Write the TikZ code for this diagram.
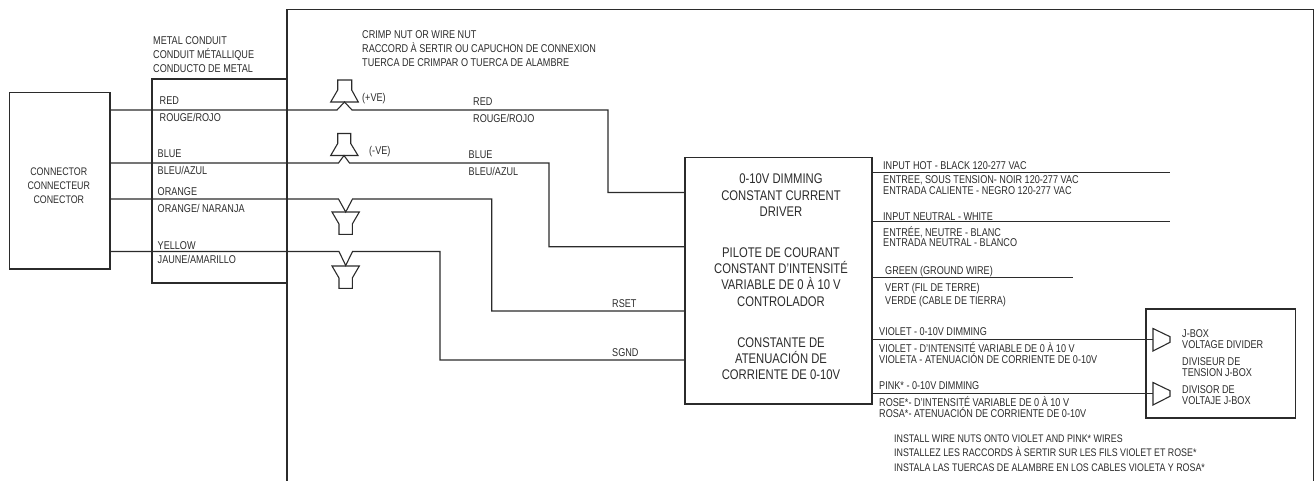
\documentclass[tikz,border=0pt]{standalone}
\usepackage{fontspec}
\setmainfont{Liberation Sans}[FakeStretch=0.805]
\usetikzlibrary{calc}

\definecolor{inkgray}{HTML}{2B2B2B}

\tikzset{
	wire/.style = {draw = inkgray, line width = 1.1pt, line join = miter},
	box/.style = {draw = inkgray, line width = 1.1pt, inner sep = 0pt},
	lbl/.style = {anchor = west, inner sep = 0pt, text = inkgray, text height = 8pt, text depth = 0pt,
		font = \fontsize{11.3}{12}\selectfont},
	notelbl/.style = {lbl, font = \fontsize{11}{12}\selectfont},
	blocktext/.style = {inner sep = 0pt, text = inkgray, align = center}
}

\begin{document}
\begin{tikzpicture}[x=1pt, y=-1pt]
\useasboundingbox (0, 0) rectangle (1316, 481);

% boxes
\node[box, minimum width = 100.5pt, minimum height = 176.5pt] (connector) at (59.75, 180.75) {};
\node[box, minimum width = 187pt, minimum height = 246.7pt] (driver) at (778.5, 280.65) {};
\node[box, minimum width = 149.3pt, minimum height = 109pt] (jbox) at (1220.65, 363.5) {};

% enclosure and conduit
\draw[wire] (287, 481) -- (287, 9.5) -- (1313.5, 9.5) -- (1313.5, 481);
\draw[wire] (287, 79) -- (152, 79) -- (152, 283) -- (287, 283);

% wires to the driver
\coordinate (redkink) at (608, 110);
\coordinate (bluekink) at (549, 163);
\coordinate (orangekink) at (491.7, 199);
\coordinate (yellowkink) at (440, 251.5);

\draw[wire] (connector.east |- redkink) -- (337, 110) -- (344.5, 102) -- (352, 110) --
	(redkink) -- (redkink |- 0, 192.5) -- (driver.west |- 0, 192.5);
\draw[wire] (connector.east |- bluekink) -- (338.5, 163) -- (344, 155.5) -- (349.5, 163) --
	(bluekink) -- (bluekink |- 0, 246.7) -- (driver.west |- 0, 246.7);
\draw[wire] (connector.east |- orangekink) -- (338.5, 199) -- (345.7, 212) -- (352.5, 199) --
	(orangekink) -- (orangekink |- 0, 311) -- (driver.west |- 0, 311);
\draw[wire] (connector.east |- yellowkink) -- (339, 251.5) -- (345.7, 265.5) -- (352.5, 251.5) --
	(yellowkink) -- (yellowkink |- 0, 360) -- (driver.west |- 0, 360);

% crimp nuts
\draw[wire] (337.7, 80) -- (337.7, 90) -- (330.7, 102) -- (358.3, 102) -- (351.7, 90) -- (351.7, 80) -- cycle;
\draw[wire] (337.7, 133.5) -- (337.7, 143.5) -- (330.7, 155.5) -- (358, 155.5) -- (350.7, 143.5) -- (350.7, 133.5) -- cycle;
\draw[wire] (339, 234.3) -- (339, 224) -- (332, 212) -- (359.3, 212) -- (352.3, 224) -- (352.3, 234.3) -- cycle;
\draw[wire] (339, 288.3) -- (339, 278) -- (332, 266) -- (359.3, 266) -- (352.3, 278) -- (352.3, 288.3) -- cycle;

% wires out of the driver
\coordinate (hotend) at (1170, 172.7);
\coordinate (neutralend) at (1170, 221.7);
\coordinate (groundend) at (1073, 277.7);
\coordinate (violetend) at (1153, 339.7);
\coordinate (pinkend) at (1153, 393.7);

\draw[wire] (driver.east |- hotend) -- (hotend);
\draw[wire] (driver.east |- neutralend) -- (neutralend);
\draw[wire] (driver.east |- groundend) -- (groundend);
\draw[wire] (driver.east |- violetend) -- (violetend);
\draw[wire] (driver.east |- pinkend) -- (pinkend);

% j-box nuts
\draw[wire] (1153, 328.5) -- (1170, 336.7) -- (1170, 342.3) -- (1153, 351) -- cycle;
\draw[wire] (1153, 382.5) -- (1170, 390.7) -- (1170, 396.3) -- (1153, 405) -- cycle;

% box texts
\node[blocktext, font = \fontsize{11}{14}\selectfont] (connectortext) at (58.8, 186)
	{CONNECTOR\\CONNECTEUR\\CONECTOR};
\node[blocktext, font = \fontsize{14}{16.3}\selectfont] (drivertext) at (781, 277)
	{0-10V DIMMING\\CONSTANT CURRENT\\DRIVER\\[24.7pt]
	PILOTE DE COURANT\\CONSTANT D’INTENSITÉ\\VARIABLE DE 0 À 10 V\\CONTROLADOR\\[24.7pt]
	CONSTANTE DE\\ATENUACIÓN DE\\CORRIENTE DE 0-10V};

% left labels
\node[lbl] (conduita) at (153, 41) {METAL CONDUIT};
\node[lbl] (conduitb) at (153, 55) {CONDUIT MÉTALLIQUE};
\node[lbl] (conduitc) at (153, 69) {CONDUCTO DE METAL};

\node[lbl] (redone) at (159.5, 101) {RED};
\node[lbl] (redtwo) at (159.5, 118) {ROUGE/ROJO};
\node[lbl] (blueone) at (157.5, 154) {BLUE};
\node[lbl] (bluetwo) at (157.5, 171) {BLEU/AZUL};
\node[lbl] (orangeone) at (157.5, 191) {ORANGE};
\node[lbl] (orangetwo) at (157.5, 208) {ORANGE/ NARANJA};
\node[lbl] (yellowone) at (157.5, 245) {YELLOW};
\node[lbl] (yellowtwo) at (157.5, 259) {JAUNE/AMARILLO};

% nut labels
\node[lbl] (crimpa) at (362, 35) {CRIMP NUT OR WIRE NUT};
\node[lbl] (crimpb) at (362, 49) {RACCORD À SERTIR OU CAPUCHON DE CONNEXION};
\node[lbl] (crimpc) at (362, 63) {TUERCA DE CRIMPAR O TUERCA DE ALAMBRE};
\node[lbl] (plusve) at (362, 98) {(+VE)};
\node[lbl] (minusve) at (369, 151) {(-VE)};

\node[lbl] (redthree) at (473, 102) {RED};
\node[lbl] (redfour) at (473, 119) {ROUGE/ROJO};
\node[lbl] (bluethree) at (468.5, 155) {BLUE};
\node[lbl] (bluefour) at (468.5, 172) {BLEU/AZUL};
\node[lbl] (rset) at (612, 303) {RSET};
\node[lbl] (sgnd) at (612, 352) {SGND};

% right labels
\node[lbl] (hota) at (883, 166) {INPUT HOT - BLACK 120-277 VAC};
\node[lbl] (hotb) at (883, 179) {ENTREE, SOUS TENSION- NOIR 120-277 VAC};
\node[lbl] (hotc) at (883, 190) {ENTRADA CALIENTE - NEGRO 120-277 VAC};
\node[lbl] (neutrala) at (883, 216) {INPUT NEUTRAL - WHITE};
\node[lbl] (neutralb) at (883, 232) {ENTRÉE, NEUTRE - BLANC};
\node[lbl] (neutralc) at (883, 242) {ENTRADA NEUTRAL - BLANCO};
\node[lbl] (grounda) at (885, 270) {GREEN (GROUND WIRE)};
\node[lbl] (groundb) at (885, 287) {VERT (FIL DE TERRE)};
\node[lbl] (groundc) at (885, 300) {VERDE (CABLE DE TIERRA)};
\node[lbl] (violeta) at (879, 331) {VIOLET - 0-10V DIMMING};
\node[lbl] (violetb) at (879, 348) {VIOLET - D’INTENSITÉ VARIABLE DE 0 À 10 V};
\node[lbl] (violetc) at (879, 359) {VIOLETA - ATENUACIÓN DE CORRIENTE DE 0-10V};
\node[lbl] (pinka) at (879, 385) {PINK* - 0-10V DIMMING};
\node[lbl] (pinkb) at (879, 402) {ROSE*- D’INTENSITÉ VARIABLE DE 0 À 10 V};
\node[lbl] (pinkc) at (879, 413) {ROSA*- ATENUACIÓN DE CORRIENTE DE 0-10V};

% j-box labels
\node[lbl] (jboxa) at (1182, 333) {J-BOX};
\node[lbl] (jboxb) at (1182, 344) {VOLTAGE DIVIDER};
\node[lbl] (jboxc) at (1182, 361) {DIVISEUR DE};
\node[lbl] (jboxd) at (1182, 372) {TENSION J-BOX};
\node[lbl] (jboxe) at (1182, 389) {DIVISOR DE};
\node[lbl] (jboxf) at (1182, 400) {VOLTAJE J-BOX};

% install note
\node[notelbl] (notea) at (894, 438) {INSTALL WIRE NUTS ONTO VIOLET AND PINK* WIRES};
\node[notelbl] (noteb) at (894, 452) {INSTALLEZ LES RACCORDS À SERTIR SUR LES FILS VIOLET ET ROSE*};
\node[notelbl] (notec) at (894, 467) {INSTALA LAS TUERCAS DE ALAMBRE EN LOS CABLES VIOLETA Y ROSA*};
\end{tikzpicture}
\end{document}
